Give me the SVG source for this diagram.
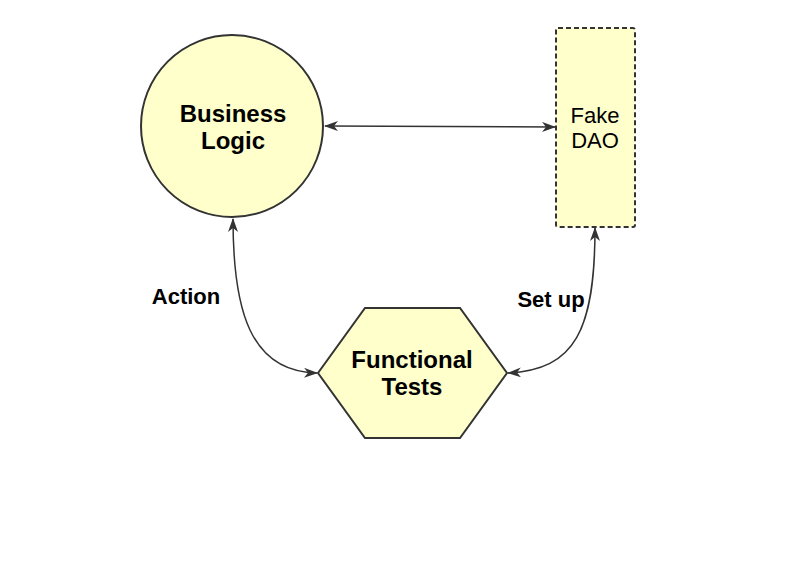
<svg xmlns="http://www.w3.org/2000/svg" width="800" height="566" viewBox="0 0 800 566">
<style>
.shape{fill:#FFFFCC;stroke:#333333;stroke-width:2}
.conn{fill:none;stroke:#333333;stroke-width:1.5}
.t{font-family:"Liberation Sans",Arial,sans-serif;fill:#000;text-anchor:middle}
.b{font-weight:bold}
</style>
<defs>
<marker id="ah" viewBox="0 0 14 10" refX="13" refY="5" markerWidth="14" markerHeight="10" markerUnits="userSpaceOnUse" orient="auto-start-reverse">
<path d="M0,0 L14,5 L0,10 L4,5 Z" fill="#333333"/>
</marker>
</defs>
<rect width="800" height="566" fill="#ffffff"/>
<g id="connectors">
<path class="conn" d="M325,126 L555,127" marker-start="url(#ah)" marker-end="url(#ah)"/>
<path class="conn" d="M233,219 C233,310 250,372 317,373" marker-start="url(#ah)" marker-end="url(#ah)"/>
<path class="conn" d="M595,228 C595,330 575,370 508,373" marker-start="url(#ah)" marker-end="url(#ah)"/>
<text class="t b" x="186" y="304" font-size="22">Action</text>
<text class="t b" x="551" y="307" font-size="22">Set up</text>
</g>
<g id="business-logic">
<circle class="shape" cx="232" cy="126" r="91"/>
<text class="t b" x="233" y="122" font-size="24">Business</text>
<text class="t b" x="233" y="149" font-size="24">Logic</text>
</g>
<g id="fake-dao">
<rect class="shape" x="556" y="28" width="79" height="199" rx="2" stroke-dasharray="5,3"/>
<text class="t" x="595" y="123" font-size="22">Fake</text>
<text class="t" x="595" y="148" font-size="22">DAO</text>
</g>
<g id="functional-tests">
<polygon class="shape" points="318,373 365,308 460,308 507,373 460,438 365,438"/>
<text class="t b" x="412" y="368" font-size="24">Functional</text>
<text class="t b" x="412" y="395" font-size="24">Tests</text>
</g>
</svg>
